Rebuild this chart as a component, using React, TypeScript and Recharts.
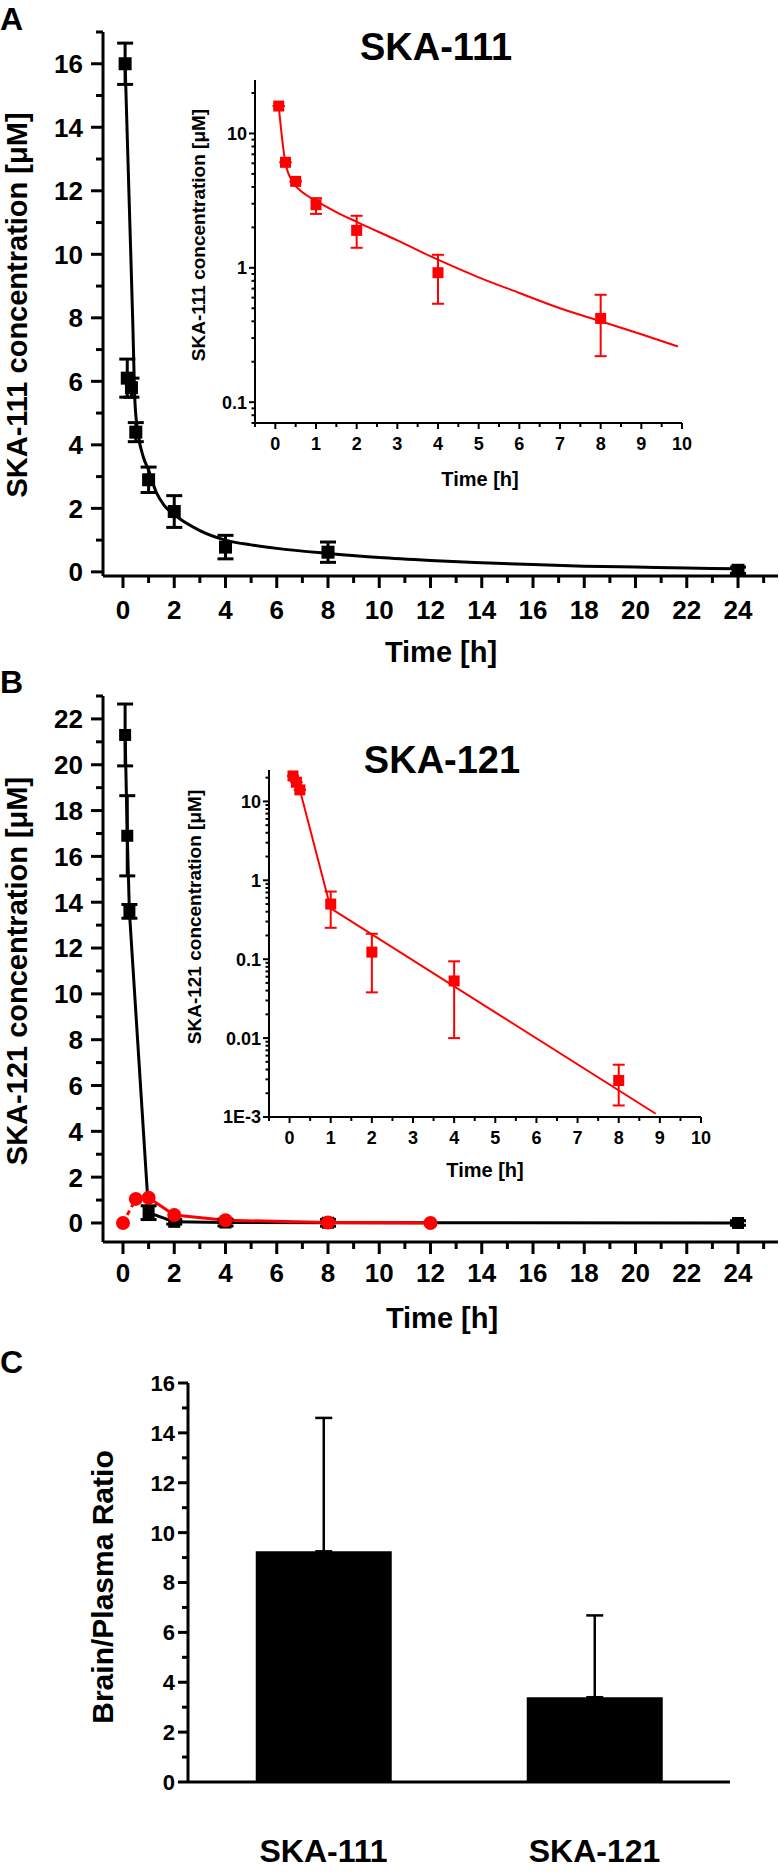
import React from "react";
import { Bar, BarChart, ComposedChart, ErrorBar, Line, Scatter, XAxis, YAxis } from "recharts";

const FONT = '"Liberation Sans", Arial, Helvetica, sans-serif';
const RED = "#ff0000";

// A: SKA-111 plasma, linear axis
const a111Time = [0.083, 0.167, 0.33, 0.5, 1, 2, 4, 8, 24];
const a111Conc = [16.0, 6.1, 5.8, 4.4, 2.9, 1.9, 0.78, 0.62, 0.05];
const a111Sem = [0.65, 0.6, 0.3, 0.3, 0.4, 0.5, 0.37, 0.32, 0.1];
const a111FitTime = [0.083, 0.2, 0.3, 0.38, 0.47, 0.6, 0.8, 1, 1.3, 1.6, 2, 3, 4, 5, 6, 8, 10, 12, 14, 16, 18, 20, 22, 24];
const a111FitConc = [16, 12.8, 10.1, 7.9, 5.3, 4.3, 3.6, 3.2, 2.5, 2.1, 1.8, 1.3, 1.0, 0.85, 0.74, 0.58, 0.45, 0.36, 0.29, 0.23, 0.18, 0.15, 0.12, 0.1];

// A inset: log axis
const a111LogTime = [0.083, 0.25, 0.5, 1, 2, 4, 8];
const a111LogConc = [16, 6.1, 4.4, 2.95, 1.9, 0.92, 0.42];
const a111LogErrLo = [0, 0, 0, 0.43, 0.49, 0.38, 0.2];
const a111LogErrHi = [0, 0, 0, 0.35, 0.54, 0.33, 0.21];
const a111LogFitTime = [0.083, 0.25, 0.44, 0.6, 0.75, 1, 1.5, 2, 3, 4, 5, 6, 7, 8, 9, 9.9];
const a111LogFitConc = [16, 6.0, 4.3, 3.8, 3.5, 3.15, 2.6, 2.2, 1.6, 1.15, 0.85, 0.65, 0.5, 0.4, 0.32, 0.26];

// B: SKA-121 plasma (black) and brain (red)
const b121Time = [0.083, 0.167, 0.25, 1, 2, 4, 8, 24];
const b121Conc = [21.3, 16.9, 13.6, 0.45, 0.05, 0.02, 0.01, 0];
const b121Sem = [1.35, 1.75, 0.3, 0.3, 0.1, 0.15, 0.15, 0.1];
const b121BrainTime = [0, 0.5, 1, 2, 4, 8, 12];
const b121BrainConc = [0, 1.05, 1.1, 0.35, 0.12, 0.02, 0];

// B inset: log axis
const b121LogTime = [0.083, 0.167, 0.25, 1, 2, 4, 8];
const b121LogConc = [21, 17.5, 14, 0.5, 0.123, 0.053, 0.0029];
const b121LogErrLo = [0, 0, 0, 0.25, 0.085, 0.043, 0.0015];
const b121LogErrHi = [0, 0, 0, 0.22, 0.087, 0.041, 0.0017];
const b121LogFitTime = [0.083, 0.25, 1, 8.9];
const b121LogFitConc = [21, 14, 0.44, 0.0011];

// C: brain/plasma ratio
const ratioNames = ["SKA-111", "SKA-121"];
const ratioMean = [9.25, 3.4];
const ratioSd = [5.35, 3.28];

// ticks
const aXTicks = [0, 1, 2, 3, 4, 5, 6, 7, 8, 9, 10, 11, 12, 13, 14, 15, 16, 17, 18, 19, 20, 21, 22, 23, 24, 25];
const aYTicks = [0, 1, 2, 3, 4, 5, 6, 7, 8, 9, 10, 11, 12, 13, 14, 15, 16, 17];
const bYTicks = [0, 1, 2, 3, 4, 5, 6, 7, 8, 9, 10, 11, 12, 13, 14, 15, 16, 17, 18, 19, 20, 21, 22, 23];
const cYTicks = [0, 1, 2, 3, 4, 5, 6, 7, 8, 9, 10, 11, 12, 13, 14, 15, 16];
const insetXTicks = [-0.5, 0, 0.5, 1, 1.5, 2, 2.5, 3, 3.5, 4, 4.5, 5, 5.5, 6, 6.5, 7, 7.5, 8, 8.5, 9, 9.5, 10];
const aLogTicks = [0.07, 0.08, 0.09, 0.1, 0.2, 0.3, 0.4, 0.5, 0.6, 0.7, 0.8, 0.9, 1, 2, 3, 4, 5, 6, 7, 8, 9, 10, 20];
const bLogTicks = [
  0.001, 0.002, 0.003, 0.004, 0.005, 0.006, 0.007, 0.008, 0.009,
  0.01, 0.02, 0.03, 0.04, 0.05, 0.06, 0.07, 0.08, 0.09,
  0.1, 0.2, 0.3, 0.4, 0.5, 0.6, 0.7, 0.8, 0.9,
  1, 2, 3, 4, 5, 6, 7, 8, 9, 10, 20,
];
const logLabels: Record<string, string> = { "0.001": "1E-3", "0.01": "0.01", "0.1": "0.1", "1": "1", "10": "10" };

const pts = (t: number[], v: number[], lo?: number[], hi?: number[]) =>
  t.map((x, i) => ({ t: x, v: v[i], e: lo ? [lo[i], (hi ?? lo)[i]] : undefined }));

const a111Pts = pts(a111Time, a111Conc, a111Sem);
const a111Fit = pts(a111FitTime, a111FitConc);
const a111LogPts = pts(a111LogTime, a111LogConc, a111LogErrLo, a111LogErrHi);
const a111LogFit = pts(a111LogFitTime, a111LogFitConc);
const b121Pts = pts(b121Time, b121Conc, b121Sem);
const b121Brain = pts(b121BrainTime, b121BrainConc);
const b121BrainDash = b121Brain.slice(0, 2);
const b121BrainSolid = b121Brain.slice(1);
const b121LogPts = pts(b121LogTime, b121LogConc, b121LogErrLo, b121LogErrHi);
const b121LogFit = pts(b121LogFitTime, b121LogFitConc);
const ratioData = ratioNames.map((name, i) => ({ name, v: ratioMean[i], e: [0, ratioSd[i]] }));

type TickSpec = {
  label: (v: number) => string | null;
  major: number;
  minor: number;
  fs: number;
  gap: number;
  sw: number;
};

const leftTick = (s: TickSpec) => (p: any) => {
  const lab = s.label(p.payload.value);
  const len = lab === null ? s.minor : s.major;
  return (
    <g>
      <line x1={p.x - len} y1={p.y} x2={p.x} y2={p.y} stroke="#000" strokeWidth={s.sw} />
      {lab !== null && (
        <text x={p.x - len - s.gap} y={p.y + s.fs * 0.36} textAnchor="end" fontSize={s.fs} fontFamily={FONT} fontWeight="bold" fill="#000">
          {lab}
        </text>
      )}
    </g>
  );
};

const bottomTick = (s: TickSpec) => (p: any) => {
  const lab = s.label(p.payload.value);
  const len = lab === null ? s.minor : s.major;
  return (
    <g>
      <line x1={p.x} y1={p.y} x2={p.x} y2={p.y + len} stroke="#000" strokeWidth={s.sw} />
      {lab !== null && (
        <text x={p.x} y={p.y + len + s.gap + s.fs * 0.72} textAnchor="middle" fontSize={s.fs} fontFamily={FONT} fontWeight="bold" fill="#000">
          {lab}
        </text>
      )}
    </g>
  );
};

const evenUpTo = (max: number) => (v: number) => (v % 2 === 0 && v <= max ? String(v) : null);
const intLabel = (v: number) => (Number.isInteger(v) ? String(v) : null);
const logLabel = (v: number) => logLabels[String(v)] ?? null;

const square = (size: number, fill: string) => (p: any) =>
  <rect x={p.cx - size / 2} y={p.cy - size / 2} width={size} height={size} fill={fill} />;
const circle = (r: number, fill: string) => (p: any) => <circle cx={p.cx} cy={p.cy} r={r} fill={fill} />;
const noMark = () => <g />;

const AX3 = { stroke: "#000", strokeWidth: 3 };
const AX2 = { stroke: "#000", strokeWidth: 2 };

const Txt = (props: any) => <text fontFamily={FONT} fontWeight="bold" fill="#000" {...props} />;

export default function App() {
  const commonX = {
    type: "number" as const,
    dataKey: "t",
    allowDataOverflow: true,
    interval: 0 as const,
    tickSize: 0,
    tickMargin: 0,
    tickLine: false,
  };
  return (
    <div style={{ position: "absolute", left: 0, top: 0, width: 780, height: 1872, background: "#fff" }}>
      {/* A main */}
      <div style={{ position: "absolute", left: 0, top: 0 }}>
        <ComposedChart width={780} height={640} margin={{ top: 32, right: 2, bottom: 0, left: 0 }}>
          <XAxis {...commonX} domain={[-0.78, 25.56]} ticks={aXTicks} height={64} axisLine={AX3}
            tick={bottomTick({ label: evenUpTo(24), major: 12, minor: 7, fs: 26, gap: 12, sw: 3 })} />
          <YAxis type="number" domain={[-0.13, 17]} allowDataOverflow ticks={aYTicks} interval={0} width={103}
            tickSize={0} tickMargin={0} tickLine={false} axisLine={AX3}
            tick={leftTick({ label: evenUpTo(16), major: 12, minor: 7, fs: 26, gap: 8, sw: 3 })} />
          <Line data={a111Fit} dataKey="v" type="monotone" stroke="#000" strokeWidth={3} dot={false} isAnimationActive={false} />
          <Scatter data={a111Pts} dataKey="v" shape={square(13, "#000")} isAnimationActive={false}>
            <ErrorBar dataKey="e" direction="y" width={8} strokeWidth={3} stroke="#000" />
          </Scatter>
        </ComposedChart>
      </div>

      {/* A inset */}
      <div style={{ position: "absolute", left: 150, top: 60 }}>
        <ComposedChart width={560} height={420} margin={{ top: 20, right: 28, bottom: 0, left: 0 }}>
          <XAxis {...commonX} domain={[-0.5, 10]} ticks={insetXTicks} height={57} axisLine={AX2}
            tick={bottomTick({ label: intLabel, major: 6, minor: 4, fs: 18, gap: 8, sw: 2 })} />
          <YAxis type="number" scale="log" domain={[0.07, 25]} allowDataOverflow ticks={aLogTicks} interval={0} width={105}
            tickSize={0} tickMargin={0} tickLine={false} axisLine={AX2}
            tick={leftTick({ label: logLabel, major: 6, minor: 3.5, fs: 18, gap: 2, sw: 2 })} />
          <Line data={a111LogFit} dataKey="v" type="monotone" stroke={RED} strokeWidth={2} dot={false} isAnimationActive={false} />
          <Scatter data={a111LogPts} dataKey="v" shape={square(11, RED)} isAnimationActive={false}>
            <ErrorBar dataKey="e" direction="y" width={6} strokeWidth={2} stroke={RED} />
          </Scatter>
        </ComposedChart>
      </div>

      {/* B main */}
      <div style={{ position: "absolute", left: 0, top: 660 }}>
        <ComposedChart width={780} height={660} margin={{ top: 36, right: 2, bottom: 0, left: 0 }}>
          <XAxis {...commonX} domain={[-0.78, 25.56]} ticks={aXTicks} height={78} axisLine={AX3}
            tick={bottomTick({ label: evenUpTo(24), major: 12, minor: 7, fs: 26, gap: 9, sw: 3 })} />
          <YAxis type="number" domain={[-0.83, 23]} allowDataOverflow ticks={bYTicks} interval={0} width={103}
            tickSize={0} tickMargin={0} tickLine={false} axisLine={AX3}
            tick={leftTick({ label: evenUpTo(22), major: 12, minor: 7, fs: 26, gap: 8, sw: 3 })} />
          <Line data={b121Pts} dataKey="v" type="linear" stroke="#000" strokeWidth={3} dot={false} isAnimationActive={false} />
          <Scatter data={b121Pts} dataKey="v" shape={square(12, "#000")} isAnimationActive={false} />
          <Line data={b121BrainDash} dataKey="v" type="linear" stroke={RED} strokeWidth={3} strokeDasharray="5 4" dot={false} isAnimationActive={false} />
          <Line data={b121BrainSolid} dataKey="v" type="linear" stroke={RED} strokeWidth={3} dot={false} isAnimationActive={false} />
          <Scatter data={b121Brain} dataKey="v" shape={circle(7, RED)} isAnimationActive={false} />
          <Scatter data={b121Pts} dataKey="v" shape={noMark} isAnimationActive={false}>
            <ErrorBar dataKey="e" direction="y" width={8} strokeWidth={3} stroke="#000" />
          </Scatter>
        </ComposedChart>
      </div>

      {/* B inset */}
      <div style={{ position: "absolute", left: 160, top: 750 }}>
        <ComposedChart width={570} height={420} margin={{ top: 20, right: 29, bottom: 0, left: 0 }}>
          <XAxis {...commonX} domain={[-0.5, 10]} ticks={insetXTicks} height={53} axisLine={AX2}
            tick={bottomTick({ label: intLabel, major: 6, minor: 4, fs: 18, gap: 8, sw: 2 })} />
          <YAxis type="number" scale="log" domain={[0.001, 25]} allowDataOverflow ticks={bLogTicks} interval={0} width={109}
            tickSize={0} tickMargin={0} tickLine={false} axisLine={AX2}
            tick={leftTick({ label: logLabel, major: 6, minor: 3.5, fs: 18, gap: 2, sw: 2 })} />
          <Line data={b121LogFit} dataKey="v" type="linear" stroke={RED} strokeWidth={2} dot={false} isAnimationActive={false} />
          <Scatter data={b121LogPts} dataKey="v" shape={square(11, RED)} isAnimationActive={false}>
            <ErrorBar dataKey="e" direction="y" width={6} strokeWidth={2} stroke={RED} />
          </Scatter>
        </ComposedChart>
      </div>

      {/* C bars */}
      <div style={{ position: "absolute", left: 0, top: 1360 }}>
        <BarChart width={780} height={512} data={ratioData} barCategoryGap="25%" margin={{ top: 23, right: 50, bottom: 0, left: 0 }}>
          <XAxis dataKey="name" type="category" height={90} tickSize={0} tickMargin={0} tickLine={false} axisLine={AX3} interval={0}
            tick={(p: any) => (
              <text x={p.x} y={p.y + 80} textAnchor="middle" fontSize={32} fontFamily={FONT} fontWeight="bold" fill="#000">
                {p.payload.value}
              </text>
            )} />
          <YAxis type="number" domain={[0, 16]} allowDataOverflow ticks={cYTicks} interval={0} width={188}
            tickSize={0} tickMargin={0} tickLine={false} axisLine={AX3}
            tick={leftTick({ label: evenUpTo(16), major: 10, minor: 6, fs: 22, gap: 3, sw: 3 })} />
          <Bar dataKey="v" fill="#000" isAnimationActive={false}>
            <ErrorBar dataKey="e" direction="y" width={8.5} strokeWidth={2.5} stroke="#000" />
          </Bar>
        </BarChart>
      </div>

      {/* titles and axis titles */}
      <svg width={780} height={1872} style={{ position: "absolute", left: 0, top: 0, pointerEvents: "none" }}>
        <Txt x={0} y={30} fontSize={32}>A</Txt>
        <Txt x={0} y={693} fontSize={32}>B</Txt>
        <Txt x={0} y={1373} fontSize={32}>C</Txt>
        <Txt x={436} y={60} fontSize={38} textAnchor="middle">SKA-111</Txt>
        <Txt x={442} y={773} fontSize={38} textAnchor="middle">SKA-121</Txt>
        <Txt x={27} y={305} fontSize={29} textAnchor="middle" transform="rotate(-90 27 305)">SKA-111 concentration [μM]</Txt>
        <Txt x={441} y={662} fontSize={29} textAnchor="middle">Time [h]</Txt>
        <Txt x={27} y={971} fontSize={29} textAnchor="middle" transform="rotate(-90 27 971)">SKA-121 concentration [μM]</Txt>
        <Txt x={442} y={1328} fontSize={29} textAnchor="middle">Time [h]</Txt>
        <Txt x={480} y={486} fontSize={20} textAnchor="middle">Time [h]</Txt>
        <Txt x={205} y={235} fontSize={19} textAnchor="middle" transform="rotate(-90 205 235)">SKA-111 concentration [μM]</Txt>
        <Txt x={485} y={1177} fontSize={20} textAnchor="middle">Time [h]</Txt>
        <Txt x={201} y={917} fontSize={19} textAnchor="middle" transform="rotate(-90 201 917)">SKA-121 concentration [μM]</Txt>
        <Txt x={113} y={1587} fontSize={30} textAnchor="middle" transform="rotate(-90 113 1587)">Brain/Plasma Ratio</Txt>
      </svg>
    </div>
  );
}
